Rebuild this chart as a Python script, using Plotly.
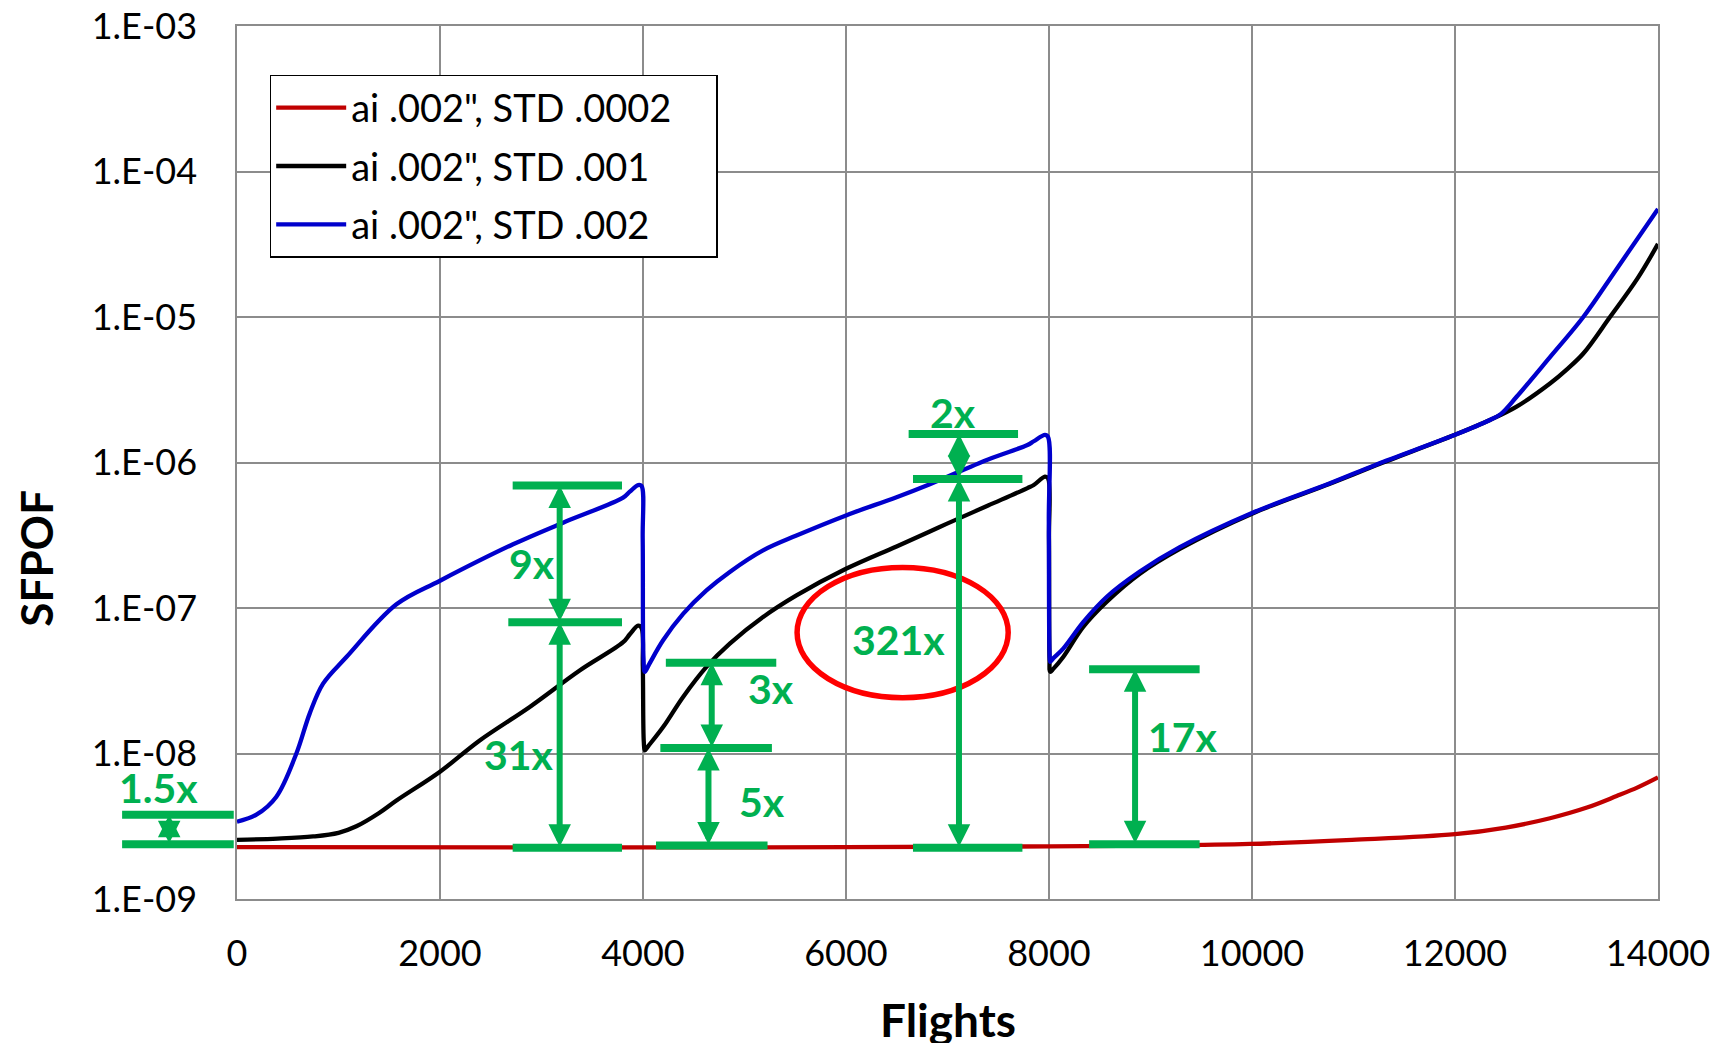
import numpy as np
import plotly.graph_objects as go

# ---------------- data ----------------
flights_red = [0, 3000, 6000, 8000, 9000, 9979, 10986, 12000, 12500, 12936, 13300, 13593, 13800, 14000]
sfpof_red = [2.27e-9, 2.26e-9, 2.27e-9, 2.30e-9, 2.33e-9, 2.39e-9, 2.55e-9, 2.79e-9, 3.10e-9,
             3.59e-9, 4.25e-9, 5.10e-9, 5.85e-9, 6.85e-9]

flights_black = [0, 400, 750, 1000, 1176, 1400, 1571, 2000, 2391, 2884, 3376, 3804, 3870, 3952, 3985,
                 3998, 4008, 4018, 4050, 4198, 4395, 4625, 4855, 5183, 5512, 6000, 6498, 6826, 6996,
                 7400, 7788, 7850, 7960, 7990, 8000, 8005, 8012, 8040, 8140, 8337, 8567, 8895, 9289,
                 10000, 10768, 11228, 12000, 12344, 12607, 12936, 13100, 13264, 13527, 13800, 14000]
sfpof_black = [2.55e-9, 2.60e-9, 2.69e-9, 2.85e-9, 3.16e-9, 3.9e-9, 4.75e-9, 7.5e-9, 1.23e-8, 2.09e-8,
               3.72e-8, 5.82e-8, 6.6e-8, 7.56e-8, 7.3e-8,
               4.0e-8, 1.2e-8, 1.05e-8, 1.12e-8, 1.52e-8, 2.45e-8, 3.94e-8, 5.69e-8, 8.67e-8, 1.22e-7,
               1.86e-7, 2.65e-7, 3.36e-7, 3.8e-7,
               5.06e-7, 6.67e-7, 7.0e-7, 8.0e-7, 7.8e-7, 3.0e-7, 4.5e-8, 3.64e-8, 3.8e-8, 4.61e-8,
               7.41e-8, 1.1e-7, 1.72e-7, 2.55e-7,
               4.45e-7, 7.14e-7, 9.6e-7, 1.55e-6, 1.96e-6, 2.42e-6, 3.49e-6, 4.35e-6, 5.61e-6, 1.0e-5,
               1.85e-5, 3.18e-5]

flights_blue = [0, 191, 388, 585, 716, 848, 1078, 1571, 2000, 2720, 3213, 3804, 3870, 3952, 3985, 3997,
                4005, 4018, 4060, 4198, 4395, 4625, 4855, 5183, 5512, 6000, 6498, 6826, 7400, 7788,
                7850, 7960, 7990, 7998, 8005, 8012, 8040, 8140, 8337, 8567, 8895, 9289, 10000, 10768,
                11228, 12000, 12344, 12450, 12607, 12936, 13264, 13593, 14000]
sfpof_blue = [3.4e-9, 3.8e-9, 5.05e-9, 1.0e-8, 1.88e-8, 3.02e-8, 4.6e-8, 1.06e-7, 1.54e-7, 2.74e-7,
              3.86e-7, 5.73e-7, 6.3e-7, 7.0e-7, 6.9e-7, 3.0e-7,
              4.5e-8, 3.64e-8, 4.1e-8, 6.0e-8, 9.1e-8, 1.32e-7, 1.77e-7, 2.49e-7, 3.15e-7, 4.33e-7,
              5.78e-7, 7.1e-7, 1.05e-6, 1.32e-6,
              1.4e-6, 1.55e-6, 1.5e-6, 4.0e-7, 5.0e-8, 4.26e-8, 4.5e-8, 5.26e-8, 8.0e-8, 1.19e-7,
              1.78e-7, 2.62e-7, 4.5e-7, 7.2e-7,
              9.7e-7, 1.55e-6, 1.96e-6, 2.15e-6, 2.83e-6, 5.3e-6, 1.0e-5, 2.14e-5, 5.52e-5]

series_names = ['ai .002", STD .0002', 'ai .002", STD .001', 'ai .002", STD .002']
series_colors = ['#C00000', '#000000', '#0000CC']

x_ticks = [0, 2000, 4000, 6000, 8000, 10000, 12000, 14000]
x_ticktext = ['0', '2000', '4000', '6000', '8000', '10000', '12000', '14000']
y_ticks = [1e-9, 1e-8, 1e-7, 1e-6, 1e-5, 1e-4, 1e-3]
y_ticktext = ['1.E-09', '1.E-08', '1.E-07', '1.E-06', '1.E-05', '1.E-04', '1.E-03']
x_range = [0, 14000]

# ratio markers (horizontal bars, double arrows, labels)
bar_x0 = [-1132, -1132, 2716, 2673, 2716, 4225, 4171, 4128, 6617, 6660, 6660, 8395, 8395]
bar_x1 = [-32, -32, 3793, 3793, 3793, 5313, 5270, 5227, 7695, 7738, 7738, 9484, 9484]
bar_y = [3.8e-9, 2.38e-9, 6.95e-7, 7.98e-8, 2.25e-9, 4.2e-8, 1.09e-8, 2.33e-9, 1.57e-6, 7.7e-7,
         2.25e-9, 3.8e-8, 2.38e-9]

arrow_x = [-668, 3179, 3179, 4677, 4645, 7113, 7113, 8848]
arrow_lo = [2.38e-9, 7.98e-8, 2.25e-9, 1.09e-8, 2.33e-9, 7.7e-7, 2.25e-9, 2.38e-9]
arrow_hi = [3.8e-9, 6.95e-7, 7.98e-8, 4.2e-8, 1.09e-8, 1.57e-6, 7.7e-7, 3.8e-8]

label_text = ['1.5x', '9x', '31x', '3x', '5x', '2x', '321x', '17x']
label_x = [-776, 2910, 2780, 5259, 5173, 7059, 6520, 9322]
label_y = [5.85e-9, 2.03e-7, 9.8e-9, 2.78e-8, 4.67e-9, 2.22e-6, 6.05e-8, 1.3e-8]

ellipse_x = [5518, 7598]
ellipse_y = [2.42e-8, 1.9e-7]

GREEN = '#00B050'
GRID = '#8C8C8C'
FONT = 'Lato'
LEGEND_PAD = '\u00a0' * 4  # right padding inside the legend frame


def xpos(v):
    """Return (xref, x) - points left of the axis range are placed in paper units."""
    if v < x_range[0]:
        return 'paper', (v - x_range[0]) / (x_range[1] - x_range[0])
    return 'x', v


fig = go.Figure()
for i, (fx, fy) in enumerate([(flights_red, sfpof_red), (flights_black, sfpof_black),
                               (flights_blue, sfpof_blue)]):
    fig.add_trace(go.Scatter(x=fx, y=fy, mode='lines', name=series_names[i] + LEGEND_PAD,
                             legendgroup=str(i),
                             line=dict(color=series_colors[i], width=4.3,
                                       shape='spline', smoothing=1.0)))

shapes = []
for x0, x1, y in zip(bar_x0, bar_x1, bar_y):
    r0, v0 = xpos(x0)
    r1, v1 = xpos(x1)
    shapes.append(dict(type='line', xref=r0, yref='y', x0=v0, x1=v1, y0=y, y1=y,
                       line=dict(color=GREEN, width=8), layer='above'))
shapes.append(dict(type='circle', xref='x', yref='y', x0=ellipse_x[0], x1=ellipse_x[1],
                   y0=ellipse_y[0], y1=ellipse_y[1], line=dict(color='#FF0000', width=5.5),
                   layer='above'))

annotations = []
for xv, lo, hi in zip(arrow_x, arrow_lo, arrow_hi):
    r, v = xpos(xv)
    annotations.append(dict(x=v, xref=r, y=np.log10(hi), yref='y', ax=0, axref='pixel',
                            ay=np.log10(lo), ayref='y', text=' ', showarrow=True,
                            arrowhead=2, startarrowhead=2, arrowside='end+start',
                            arrowsize=0.75, startarrowsize=0.75, arrowwidth=6,
                            arrowcolor=GREEN, font=dict(size=1), borderpad=0))
for t, xv, yv in zip(label_text, label_x, label_y):
    r, v = xpos(xv)
    annotations.append(dict(x=v, xref=r, y=np.log10(yv), yref='y', text='<b>%s</b>' % t,
                            showarrow=False, xanchor='center', yanchor='middle',
                            font=dict(family=FONT, size=41, color=GREEN)))

annotations.append(dict(x=0.5, y=-0.1386, xref='paper', yref='paper', text='<b>Flights</b>',
                        showarrow=False, xanchor='center', yanchor='middle',
                        font=dict(family=FONT, size=46, color='black')))
annotations.append(dict(x=-0.1417, y=0.3906, xref='paper', yref='paper', text='<b>SFPOF</b>',
                        showarrow=False, xanchor='center', yanchor='middle', textangle=-90,
                        font=dict(family=FONT, size=44, color='black')))

fig.update_layout(
    width=1715, height=1043,
    margin=dict(l=237, r=57, t=26, b=144, autoexpand=False),
    paper_bgcolor='white', plot_bgcolor='white',
    font=dict(family=FONT, size=36, color='black'),
    shapes=shapes, annotations=annotations,
    showlegend=True,
    legend=dict(x=0.023, y=0.944, xanchor='left', yanchor='top',
                bgcolor='white', bordercolor='black', borderwidth=1.5,
                font=dict(family=FONT, size=38, color='black'),
                tracegroupgap=6, traceorder='grouped',
                itemwidth=70),
    xaxis=dict(range=x_range, tickvals=x_ticks, ticktext=x_ticktext,
               showgrid=True, gridcolor=GRID, gridwidth=1.5,
               showline=True, linecolor=GRID, linewidth=1.5, mirror=True,
               ticks='outside', ticklen=0, tickcolor='rgba(0,0,0,0)',
               ticklabelstandoff=22, zeroline=False, automargin=False,
               tickfont=dict(family=FONT, size=36, color='black')),
    yaxis=dict(type='log', range=[-9, -3], tickvals=y_ticks, ticktext=y_ticktext,
               showgrid=True, gridcolor=GRID, gridwidth=1.5,
               showline=True, linecolor=GRID, linewidth=1.5, mirror=True,
               ticks='outside', ticklen=0, tickcolor='rgba(0,0,0,0)',
               ticklabelstandoff=31, zeroline=False, automargin=False,
               tickfont=dict(family=FONT, size=36, color='black')),
)

fig.write_html('out.html')
